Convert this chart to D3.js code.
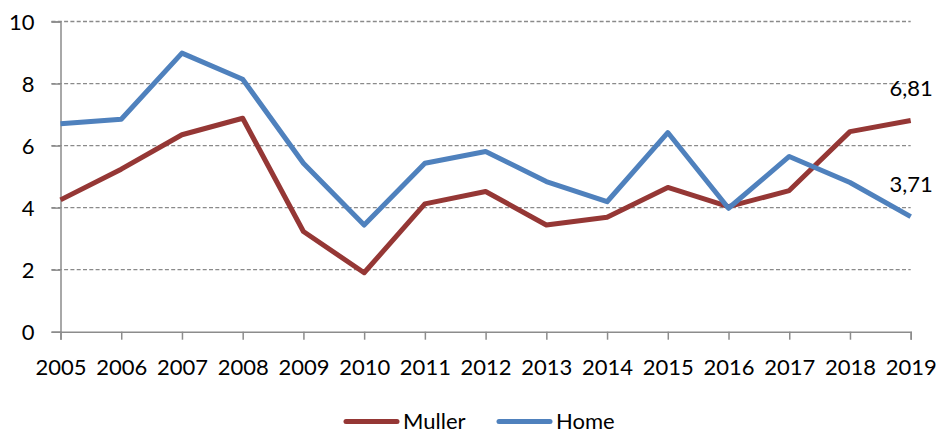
<!DOCTYPE html>
<html>
<head>
<meta charset="utf-8">
<script src="https://cdn.jsdelivr.net/npm/d3@7"></script>
<style>
  body { margin: 0; background: #fff; }
  svg text { font-family: Lato, "Open Sans", sans-serif; fill: #000; }
</style>
</head>
<body>
<div id="chart"></div>
<script>
// data
const years = [2005, 2006, 2007, 2008, 2009, 2010, 2011, 2012, 2013, 2014, 2015, 2016, 2017, 2018, 2019]
const muller = [4.25, 5.24, 6.35, 6.88, 3.23, 1.90, 4.12, 4.52, 3.44, 3.69, 4.65, 4.03, 4.55, 6.45, 6.81]
const home = [6.70, 6.85, 8.98, 8.14, 5.43, 3.44, 5.43, 5.81, 4.84, 4.19, 6.42, 3.98, 5.65, 4.81, 3.71]
const yTicks = [0, 2, 4, 6, 8, 10]
const seriesNames = ["Muller", "Home"]
const endLabels = ["6,81", "3,71"]

function drawChart() {
    const colors = {Muller: "#953735", Home: "#4f81bd"}
    const series = [
        {name: "Muller", values: muller, label: endLabels[0]},
        {name: "Home", values: home, label: endLabels[1]},
    ]

    // dimensions
    let dimensions = {
        width: 939,
        height: 434,
        margin: {top: 21.5, right: 28, bottom: 102, left: 60.5},
    }
    dimensions.boundedWidth = dimensions.width - dimensions.margin.left - dimensions.margin.right
    dimensions.boundedHeight = dimensions.height - dimensions.margin.top - dimensions.margin.bottom

    const wrapper = d3.select("#chart")
        .append("svg")
        .attr("width", dimensions.width)
        .attr("height", dimensions.height)

    const bounds = wrapper.append("g")
        .attr("transform", `translate(${dimensions.margin.left},${dimensions.margin.top})`)

    // scales
    const xScale = d3.scaleLinear()
        .domain([years[0], years[years.length - 1]])
        .range([0, 850.2])
    const yScale = d3.scaleLinear()
        .domain([0, 10])
        .range([310.2, 0])

    // gridlines
    bounds.append("g")
        .selectAll("line")
        .data(yTicks.filter(d => d > 0))
        .enter().append("line")
            .attr("x1", -9)
            .attr("x2", xScale(years[years.length - 1]))
            .attr("y1", d => yScale(d))
            .attr("y2", d => yScale(d))
            .attr("stroke", "#8a8a8a")
            .attr("stroke-width", 1.3)
            .attr("stroke-dasharray", "4,2.3")

    // y axis
    const yAxis = bounds.append("g")
        .call(d3.axisLeft(yScale).tickValues(yTicks).tickSize(9).tickPadding(17))
    yAxis.select(".domain").attr("stroke", "#8c8c8c").attr("stroke-width", 1.5)
    yAxis.selectAll(".tick line").attr("stroke", "#8c8c8c").attr("stroke-width", 1.5)
    yAxis.selectAll("text").style("font-size", "22px").attr("dy", "0.36em")

    // x axis
    const xAxis = bounds.append("g")
        .attr("transform", `translate(0,${yScale(0)})`)
        .call(d3.axisBottom(xScale).tickValues(years).tickFormat(d3.format("d")).tickSize(8))
    xAxis.select(".domain").attr("stroke", "#8c8c8c").attr("stroke-width", 1.5)
    xAxis.selectAll(".tick line").attr("stroke", "#8c8c8c").attr("stroke-width", 1.5)
    xAxis.selectAll("text").style("font-size", "22px").attr("y", 43.5).attr("dy", 0)

    // lines
    const lineGenerator = d3.line()
        .x((d, i) => xScale(years[i]))
        .y(d => yScale(d))

    series.forEach(s => {
        bounds.append("path")
            .attr("d", lineGenerator(s.values))
            .attr("fill", "none")
            .attr("stroke", colors[s.name])
            .attr("stroke-width", 5)
            .attr("stroke-linejoin", "round")
    })

    // end labels
    series.forEach(s => {
        bounds.append("text")
            .attr("x", xScale(2019) + 22)
            .attr("y", yScale(s.values[s.values.length - 1]) - 32.6)
            .attr("text-anchor", "end")
            .attr("dy", "0.36em")
            .style("font-size", "22px")
            .text(s.label)
    })

    // legend
    const legend = wrapper.append("g")
        .attr("transform", "translate(344,421.5)")
    const legendItems = legend.selectAll("g")
        .data(seriesNames)
        .enter().append("g")
            .attr("transform", (d, i) => `translate(${i * 153},0)`)
    legendItems.append("line")
        .attr("x1", 2).attr("x2", 53)
        .attr("stroke", d => colors[d])
        .attr("stroke-width", 5)
        .attr("stroke-linecap", "round")
    legendItems.append("text")
        .attr("x", 59)
        .attr("dy", "0.36em")
        .style("font-size", "22px")
        .text(d => d)
}

drawChart()
</script>
</body>
</html>
